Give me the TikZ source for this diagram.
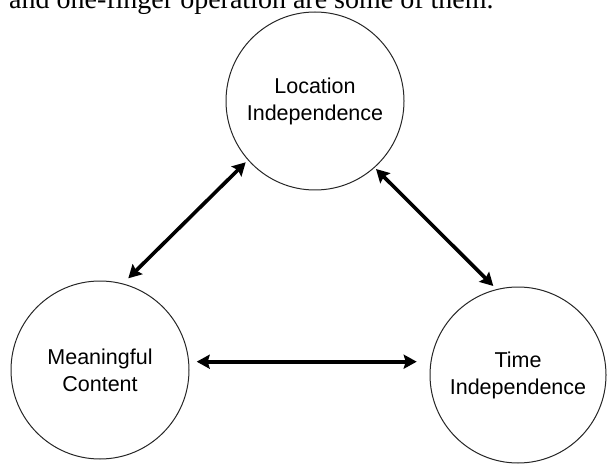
\documentclass[tikz,border=0pt]{standalone}
\usepackage{fontspec}
\setmainfont{Liberation Serif}
\newfontfamily\diagsans{Liberation Sans}
\usetikzlibrary{arrows.meta,calc}
\begin{document}
\begin{tikzpicture}[x=1pt,y=1pt,
  bubble/.style={circle,draw=black!85,line width=1pt,inner sep=0pt,outer sep=0pt,align=center,font=\diagsans\fontsize{21.5}{27}\selectfont},
  tip/.tip={Stealth[length=13pt,width=14pt,inset=2pt]},
  link/.style={line width=3.6pt,tip-tip}]
\useasboundingbox (0,0) rectangle (609,466);
\clip (0,0) rectangle (609,466);
\node[anchor=base west,font=\fontsize{28}{30}\selectfont,inner sep=0pt] (cap) at (9,457) {and one-finger operation are some of them.};
\node[bubble,minimum size=178pt] (loc) at (315,365) {Location\\Independence};
\node[bubble,minimum size=178pt] (mc) at (100,96) {Meaningful\\Content};
\node[bubble,minimum size=176pt] (ti) at (518,91) {Time\\Independence};
\coordinate (a1) at ($(loc.center)+(-69.3,-61.3)$);
\coordinate (a2) at ($(mc.center)+(28.3,91.7)$);
\coordinate (b1) at ($(loc.center)+(61,-68)$);
\coordinate (b2) at ($(ti.center)+(-24.7,89)$);
\coordinate (h1) at ($(mc.center)+(96.7,8.3)$);
\coordinate (h2) at ($(ti.center)+(-101.3,13.3)$);
\draw[link] (a1) -- (a2);
\draw[link] (b1) -- (b2);
\draw[link] (h1) -- (h2);
\end{tikzpicture}
\end{document}
